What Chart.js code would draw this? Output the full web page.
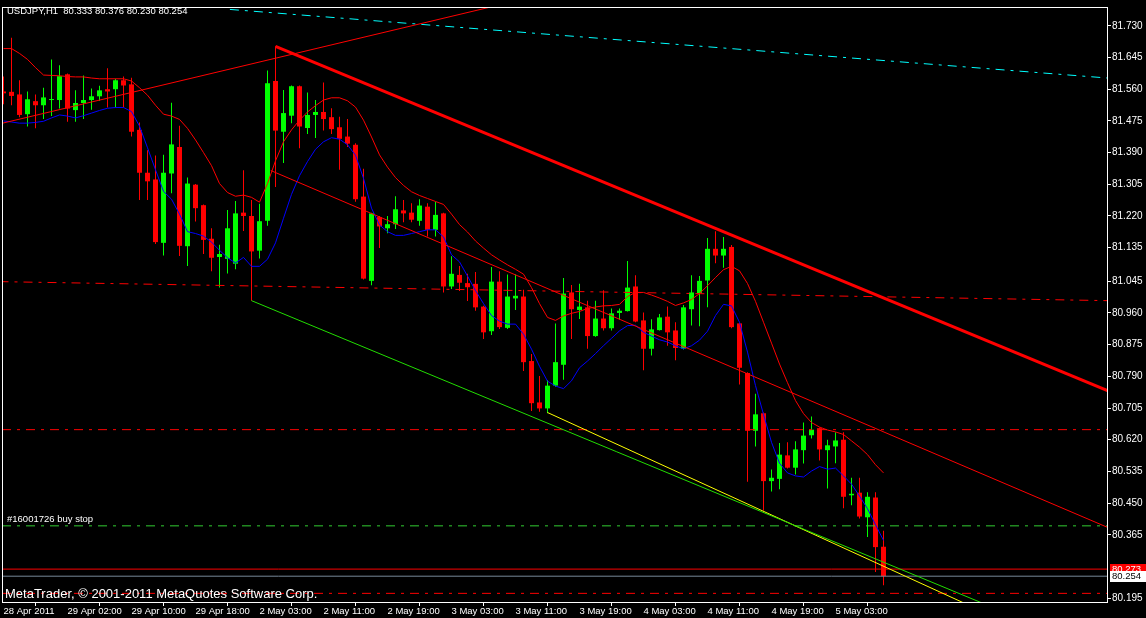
<!DOCTYPE html>
<html lang="en">
<head>
<meta charset="UTF-8">
<title>USDJPY,H1</title>
<style>
  html, body { margin: 0; padding: 0; background: #000; }
  #wrap { width: 1146px; height: 618px; position: relative; }
</style>
</head>
<body>
<div id="wrap"><canvas id="chart"></canvas></div>
<script src="https://cdn.jsdelivr.net/npm/chart.js"></script>
<script>
// H1 bars, index 0 = 28 Apr 2011 18:00
const opens = [81.554,81.553,81.546,81.493,81.528,81.517,81.531,81.531,81.600,81.504,81.523,81.531,81.541,81.560,81.560,81.584,81.573,81.451,81.336,81.318,
  81.148,81.334,81.405,81.139,81.304,81.249,81.159,81.110,81.105,81.092,81.229,81.220,81.127,81.207,81.582,81.446,81.489,81.568,81.456,81.491,
  81.499,81.485,81.458,81.433,81.411,81.272,81.046,81.217,81.187,81.198,81.235,81.229,81.207,81.245,81.183,81.227,81.031,81.062,81.040,81.038,
  80.977,80.911,81.044,80.920,80.999,81.004,80.831,80.720,80.704,80.765,80.821,81.015,80.968,80.975,80.898,80.945,80.919,80.960,80.965,81.031,
  80.940,80.864,80.914,80.950,80.913,80.864,80.970,81.013,81.047,81.132,81.114,81.137,80.932,80.799,80.644,80.691,80.509,80.515,80.578,80.545,
  80.592,80.632,80.651,80.592,80.602,80.620,80.471,80.478,80.412,80.465,80.333];
const highs = [81.594,81.698,81.584,81.554,81.546,81.564,81.640,81.624,81.602,81.557,81.597,81.562,81.569,81.616,81.588,81.594,81.591,81.471,81.396,81.382,
  81.384,81.524,81.462,81.323,81.306,81.251,81.187,81.143,81.236,81.260,81.343,81.263,81.253,81.610,81.675,81.558,81.570,81.570,81.551,81.531,
  81.578,81.509,81.486,81.480,81.415,81.347,81.229,81.220,81.220,81.273,81.263,81.254,81.265,81.254,81.258,81.229,81.112,81.086,81.065,81.070,
  80.979,81.083,81.072,81.063,81.063,81.022,80.850,80.791,80.780,80.932,81.054,81.035,81.038,80.993,80.993,81.021,80.972,80.972,81.099,81.061,
  80.961,80.943,80.957,80.977,80.935,80.981,81.061,81.059,81.161,81.179,81.164,81.142,80.934,80.801,80.743,80.693,80.540,80.611,80.613,80.616,
  80.666,80.682,80.653,80.620,80.640,80.640,80.518,80.518,80.479,80.479,80.376];
const lows = [81.520,81.517,81.485,81.460,81.455,81.480,81.488,81.508,81.473,81.473,81.480,81.505,81.529,81.511,81.511,81.511,81.433,81.263,81.263,81.145,
  81.114,81.281,81.113,81.086,81.205,81.118,81.072,81.028,81.066,81.077,81.180,80.993,81.106,81.194,81.298,81.362,81.469,81.402,81.440,81.429,
  81.449,81.440,81.344,81.405,81.258,81.050,81.034,81.134,81.174,81.185,81.203,81.203,81.194,81.165,81.165,81.015,81.024,81.019,80.992,80.966,
  80.890,80.901,80.917,80.917,80.968,80.804,80.697,80.695,80.691,80.762,80.781,80.890,80.944,80.864,80.896,80.913,80.913,80.942,80.964,80.935,
  80.806,80.846,80.913,80.872,80.833,80.862,80.926,80.924,80.975,81.093,81.081,80.919,80.768,80.507,80.602,80.430,80.481,80.487,80.543,80.527,
  80.556,80.623,80.564,80.489,80.557,80.436,80.444,80.409,80.359,80.265,80.230];
const closes = [81.549,81.542,81.491,81.533,81.517,81.538,81.533,81.595,81.508,81.523,81.531,81.541,81.557,81.554,81.584,81.570,81.446,81.336,81.313,81.150,
  81.336,81.412,81.140,81.307,81.241,81.156,81.108,81.118,81.187,81.227,81.220,81.125,81.206,81.576,81.449,81.496,81.568,81.460,81.491,81.499,
  81.480,81.453,81.427,81.414,81.265,81.052,81.227,81.192,81.198,81.238,81.227,81.210,81.248,81.183,81.223,81.031,81.065,81.041,81.029,80.975,
  80.908,81.044,80.922,81.004,81.006,80.828,80.718,80.704,80.765,80.828,81.012,80.970,80.977,80.898,80.945,80.919,80.959,80.966,81.028,80.937,
  80.864,80.916,80.948,80.908,80.866,80.975,81.015,81.046,81.132,81.114,81.132,80.922,80.813,80.644,80.688,80.509,80.518,80.580,80.545,80.594,
  80.631,80.647,80.594,80.605,80.618,80.467,80.475,80.414,80.467,80.332,80.254];

// indicator lines (blue fast MA, red slow MA)
const maFast = [81.475,81.472,81.469,81.469,81.471,81.474,81.483,81.491,81.488,81.483,81.489,81.496,81.503,81.509,81.511,81.511,81.500,81.461,81.403,81.344,
  81.286,81.265,81.225,81.178,81.173,81.166,81.150,81.128,81.108,81.094,81.109,81.085,81.085,81.104,81.148,81.214,81.278,81.328,81.366,81.399,
  81.419,81.430,81.426,81.411,81.383,81.321,81.241,81.196,81.178,81.168,81.168,81.173,81.178,81.183,81.183,81.164,81.116,81.097,81.059,81.020,
  80.985,80.953,80.938,80.930,80.930,80.903,80.863,80.817,80.777,80.764,80.757,80.778,80.813,80.831,80.851,80.872,80.892,80.912,80.926,80.927,
  80.908,80.898,80.888,80.882,80.872,80.864,80.872,80.887,80.911,80.953,80.983,80.979,80.935,80.855,80.765,80.688,80.613,80.557,80.531,80.523,
  80.520,80.536,80.548,80.541,80.544,80.523,80.501,80.469,80.435,80.392,80.350];
const maSlow = [81.669,81.669,81.656,81.640,81.618,81.598,81.597,81.596,81.594,81.593,81.593,81.590,81.588,81.588,81.588,81.588,81.582,81.564,81.544,81.517,
  81.493,81.488,81.479,81.455,81.424,81.390,81.355,81.307,81.283,81.273,81.276,81.270,81.257,81.307,81.368,81.419,81.451,81.477,81.499,81.516,
  81.531,81.537,81.537,81.529,81.512,81.477,81.432,81.384,81.351,81.323,81.302,81.285,81.275,81.267,81.259,81.251,81.225,81.197,81.177,81.153,
  81.134,81.116,81.102,81.089,81.077,81.064,81.028,80.985,80.948,80.940,80.952,80.959,80.964,80.972,80.976,80.979,80.980,80.983,81.004,81.015,
  81.015,81.008,81.000,80.991,80.980,80.987,80.996,81.012,81.033,81.055,81.076,81.085,81.073,81.039,80.991,80.935,80.879,80.823,80.773,80.725,
  80.690,80.666,80.654,80.646,80.641,80.634,80.617,80.600,80.580,80.553,80.531];

const timeLabels = ['28 Apr 2011','29 Apr 02:00','29 Apr 10:00','29 Apr 18:00','2 May 03:00','2 May 11:00','2 May 19:00',
  '3 May 03:00','3 May 11:00','3 May 19:00','4 May 03:00','4 May 11:00','4 May 19:00','5 May 03:00'];
const timeLabelBars = [0,8,16,24,32,40,48,56,64,72,80,88,96,104];
const priceTicks = [81.730,81.645,81.560,81.475,81.390,81.305,81.220,81.135,81.045,80.960,80.875,80.790,80.705,80.620,80.535,80.450,80.365,80.195];

// objects: [bar, price] anchors
const channelTop = [[34, 81.675], [138, 80.752]];
const channelMid = [[33.4, 81.342], [138, 80.385]];
const channelLow = [[31, 80.993], [138, 80.043]];
const channelLow2 = [[68, 80.693], [138, 80.006]];
const upLine = [[-0.5, 81.467], [70, 81.827]];
const cyanLine = [[28.3, 81.774], [138, 81.590]];
const levelSlope = [[-0.5, 81.044], [138, 80.993]];
const levelMid = 80.647;
const buyStopPrice = 80.389;
const levelLow = 80.208;
const askPrice = 80.273;
const bidPrice = 80.254;

const title = 'USDJPY,H1  80.333 80.376 80.230 80.254';
const copyright = 'MetaTrader, \u00a9 2001-2011 MetaQuotes Software Corp.';
const orderLabel = '#16001726 buy stop';

const FAMILY = '"Liberation Sans", Arial, sans-serif';
const FONT = '9.5px ' + FAMILY;
const bull = '#00ff00', bear = '#ff0000';
const X0 = -0.1875, X1 = 137.9375;

function seg(pts) { return pts.map(p => ({x: p[0], y: p[1]})); }
function hline(v) { return [{x: X0, y: v}, {x: X1 + 1, y: v}]; }
function candleColor(ctx) {
  const i = ctx.dataIndex;
  return closes[i] >= opens[i] ? bull : bear;
}
function line(data, color, width, dash) {
  return { type: 'line', data: data, borderColor: color, borderWidth: width || 1,
    borderDash: dash || [], pointRadius: 0, tension: 0, fill: false, order: 0 };
}
const dashDot = [9, 6, 3, 6];

const overlay = {
  id: 'overlay',
  beforeDraw(chart) {
    const ctx = chart.ctx;
    ctx.save();
    ctx.fillStyle = '#000';
    ctx.fillRect(0, 0, chart.width, chart.height);
    ctx.restore();
  },
  afterDraw(chart) {
    const {ctx, chartArea: a} = chart;
    const y = chart.scales.y;
    ctx.save();
    ctx.strokeStyle = '#fff';
    ctx.lineWidth = 1;
    ctx.strokeRect(a.left + 0.5, a.top + 0.5, a.right - a.left, a.bottom - a.top);
    ctx.textBaseline = 'middle';
    ctx.fillStyle = '#fff';
    ctx.font = FONT;
    ctx.fillText(title, 7, 11);
    ctx.fillText(orderLabel, 7, y.getPixelForValue(buyStopPrice) - 6);
    ctx.font = '13px ' + FAMILY;
    ctx.fillText(copyright, 5, 594);

    ctx.font = FONT;
    const ya = y.getPixelForValue(askPrice);
    ctx.fillStyle = '#ff0000';
    ctx.fillRect(a.right + 3, Math.round(ya) - 5, 40, 11);
    ctx.fillStyle = '#fff';
    ctx.fillText(askPrice.toFixed(3), a.right + 5, ya);
    const yb = y.getPixelForValue(bidPrice);
    ctx.fillStyle = '#fff';
    ctx.fillRect(a.right + 3, Math.round(yb) - 5, 40, 11);
    ctx.fillStyle = '#000';
    ctx.fillText(bidPrice.toFixed(3), a.right + 5, yb);
    ctx.restore();
  }
};

new Chart(document.getElementById('chart'), {
  type: 'bar',
  data: {
    datasets: [
      line(seg(channelTop), '#ff0000', 3),
      line(seg(channelMid), '#ff0000', 1),
      line(seg(upLine), '#ff0000', 1),
      line(seg(channelLow), '#22dd00', 1),
      line(seg(channelLow2), '#ffff00', 1),
      line(seg(cyanLine), '#00ffff', 1, dashDot),
      line(seg(levelSlope), '#ff0000', 1, dashDot),
      line(hline(levelMid), '#ff0000', 1, dashDot),
      line(hline(buyStopPrice), '#32cd32', 1, dashDot),
      line(hline(levelLow), '#ff0000', 1, dashDot),
      line(hline(askPrice), '#ff0000', 1),
      line(hline(bidPrice), '#778899', 1),
      line(maFast.map((v, i) => ({x: i, y: v})), '#0000ff', 1),
      line(maSlow.map((v, i) => ({x: i, y: v})), '#ff0000', 1),
      {
        label: 'body',
        data: opens.map((o, i) => ({x: i, y: [o, closes[i]]})),
        backgroundColor: candleColor,
        barThickness: 5, minBarLength: 1, grouped: false,
        borderWidth: 0, inflateAmount: 0, order: 1
      },
      {
        label: 'wick',
        data: lows.map((l, i) => ({x: i, y: [l, highs[i]]})),
        backgroundColor: candleColor,
        barThickness: 1, grouped: false,
        borderWidth: 0, inflateAmount: 0, order: 2
      }
    ]
  },
  options: {
    responsive: true,
    maintainAspectRatio: false,
    animation: false,
    events: [],
    layout: { padding: { left: 2, top: 2, right: 0, bottom: 0 } },
    plugins: { legend: { display: false }, tooltip: { enabled: false } },
    scales: {
      x: {
        type: 'linear', min: X0, max: X1, offset: false,
        afterBuildTicks: s => { s.ticks = timeLabelBars.map(v => ({value: v})); },
        afterFit: s => { s.height = 16; },
        grid: { display: true, drawOnChartArea: false, drawTicks: true, tickLength: 4, color: '#fff' },
        border: { display: true, color: '#fff' },
        ticks: {
          autoSkip: false, maxRotation: 0, align: 'start', padding: 0,
          color: '#fff', font: { family: FAMILY, size: 9.5 },
          callback: v => timeLabels[timeLabelBars.indexOf(v)] || ''
        }
      },
      y: {
        position: 'right', min: 80.1848, max: 81.7805,
        afterBuildTicks: s => { s.ticks = priceTicks.map(v => ({value: v})); },
        afterFit: s => { s.width = 39; },
        grid: { display: true, drawOnChartArea: false, drawTicks: true, tickLength: 4, color: '#fff' },
        border: { display: true, color: '#fff' },
        ticks: {
          padding: 1, color: '#fff',
          font: { family: FAMILY, size: 10 },
          callback: v => v.toFixed(3)
        }
      }
    }
  },
  plugins: [overlay]
});
</script>
</body>
</html>
